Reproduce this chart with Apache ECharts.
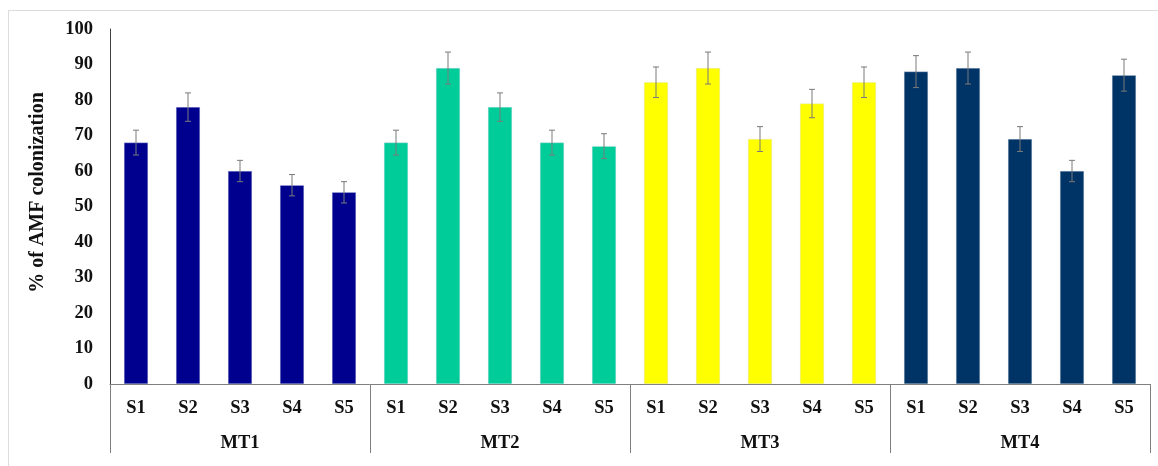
<!DOCTYPE html>
<html>
<head>
<meta charset="utf-8">
<script src="https://cdn.jsdelivr.net/npm/echarts@6/dist/echarts.min.js"></script>
<style>
html,body{margin:0;padding:0;background:#fff;}
#chart{position:absolute;left:0;top:0;width:1158px;height:466px;}
#frame{position:absolute;left:8px;top:10px;width:1150px;height:456px;border-left:1px solid #dcdcdc;border-top:1px solid #dcdcdc;pointer-events:none;}
</style>
</head>
<body>
<div id="chart"></div>
<div id="frame"></div>
<script>
const samples = ['S1', 'S2', 'S3', 'S4', 'S5'];
const groups = ['MT1', 'MT2', 'MT3', 'MT4'];
const yTicks = [0, 10, 20, 30, 40, 50, 60, 70, 80, 90, 100];

const MT1 = [68, 78, 60, 56, 54];
const MT2 = [68, 89, 78, 68, 67];
const MT3 = [85, 89, 69, 79, 85];
const MT4 = [88, 89, 69, 60, 87];

const MT1_err = [3.5, 4, 3, 3, 3];
const MT2_err = [3.5, 4.5, 4, 3.5, 3.5];
const MT3_err = [4.3, 4.5, 3.5, 4, 4.3];
const MT4_err = [4.5, 4.5, 3.5, 3, 4.5];

const groupColors = ['#00008f', '#00cc99', '#ffff00', '#003366'];

const values = [MT1, MT2, MT3, MT4];
const errors = [MT1_err, MT2_err, MT3_err, MT4_err];

const cats = [];
const barData = [];
const errData = [];
groups.forEach((g, gi) => {
  samples.forEach((s, si) => {
    const idx = cats.length;
    cats.push(s);
    barData.push({ value: values[gi][si], itemStyle: { color: groupColors[gi] } });
    errData.push([idx, values[gi][si] - errors[gi][si], values[gi][si] + errors[gi][si]]);
  });
});

const font = "'Liberation Serif', 'Times New Roman', serif";

const chart = echarts.init(document.getElementById('chart'), null, { renderer: 'canvas' });
chart.setOption({
  animation: false,
  backgroundColor: '#ffffff',
  grid: { left: 110, right: 8, top: 29, bottom: 82, containLabel: false },
  xAxis: [
    {
      type: 'category',
      data: cats,
      position: 'bottom',
      axisLine: { show: true, lineStyle: { color: '#7f7f7f', width: 1 } },
      axisTick: { show: false },
      axisLabel: { interval: 0, margin: 15, color: '#111', fontFamily: font, fontWeight: 'bold', fontSize: 18.5 },
      splitLine: { show: false }
    },
    {
      type: 'category',
      data: groups,
      position: 'bottom',
      gridIndex: 0,
      axisLine: { show: false },
      axisTick: { show: true, length: 69, interval: 0, lineStyle: { color: '#7f7f7f', width: 1 } },
      axisLabel: { interval: 0, margin: 50, color: '#111', fontFamily: font, fontWeight: 'bold', fontSize: 18.5 },
      splitLine: { show: false }
    }
  ],
  yAxis: {
    type: 'value',
    min: yTicks[0],
    max: yTicks[yTicks.length - 1],
    interval: 10,
    name: '% of AMF colonization',
    nameLocation: 'middle',
    nameGap: 62,
    nameRotate: 90,
    nameTextStyle: { color: '#111', fontFamily: font, fontWeight: 'bold', fontSize: 20, padding: [0, 0, 0, 28] },
    axisLine: { show: true, lineStyle: { color: '#404040', width: 1 } },
    axisTick: { show: false },
    splitLine: { show: false },
    axisLabel: { margin: 17, color: '#111', fontFamily: font, fontWeight: 'bold', fontSize: 18.5 }
  },
  series: [
    {
      type: 'bar',
      xAxisIndex: 0,
      data: barData,
      barWidth: 24,
      itemStyle: { borderColor: 'rgba(200,210,230,0.6)', borderWidth: 0.5 }
    },
    {
      type: 'custom',
      xAxisIndex: 0,
      data: errData,
      z: 10,
      renderItem: function (params, api) {
        const x = api.value(0);
        const lo = api.coord([x, api.value(1)]);
        const hi = api.coord([x, api.value(2)]);
        const cap = 3;
        const style = { stroke: '#7a7a7a', lineWidth: 1 };
        return {
          type: 'group',
          children: [
            { type: 'line', shape: { x1: lo[0], y1: lo[1], x2: hi[0], y2: hi[1] }, style: style },
            { type: 'line', shape: { x1: hi[0] - cap, y1: hi[1], x2: hi[0] + cap, y2: hi[1] }, style: style },
            { type: 'line', shape: { x1: lo[0] - cap, y1: lo[1], x2: lo[0] + cap, y2: lo[1] }, style: style }
          ]
        };
      }
    }
  ]
});
</script>
</body>
</html>
